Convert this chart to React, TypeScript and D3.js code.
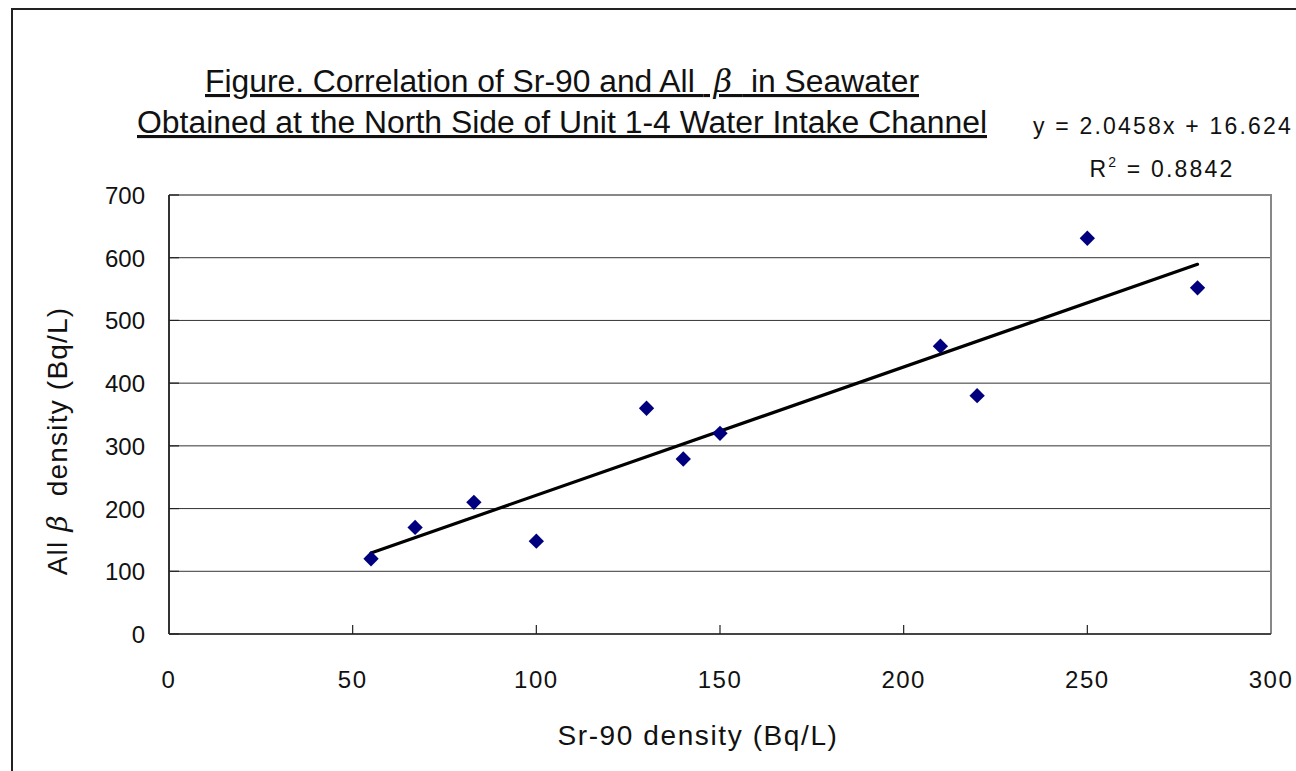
import React, { useRef, useEffect } from "react";
import * as d3 from "d3";

// Sr-90 density (Bq/L) vs All beta density (Bq/L)
const srValues = [55, 67, 83, 100, 130, 140, 150, 210, 220, 250, 280];
const betaValues = [120, 170, 210, 148, 360, 279, 320, 459, 380, 631, 552];
const xTicks = [0, 50, 100, 150, 200, 250, 300];
const yTicks = [0, 100, 200, 300, 400, 500, 600, 700];
const slope = 2.0458;
const intercept = 16.624;
const titleLines = [
  ["Figure. Correlation of Sr-90 and All ", "\u03B2", " in Seawater"],
  ["Obtained at the North Side of Unit 1-4 Water Intake Channel", "", ""],
];
const titleWidths = [714, 850];

const W = 1296;
const H = 771;

export default function App() {
  const svgRef = useRef<SVGSVGElement>(null);

  useEffect(() => {
    const svg = d3.select(svgRef.current);
    svg.selectAll("*").remove();

    const margin = { top: 195, right: 25, bottom: 137, left: 169 };
    const w = W - margin.left - margin.right;
    const h = H - margin.top - margin.bottom;
    const font = "'Liberation Sans', Arial, sans-serif";

    // outer frame
    svg
      .append("rect")
      .attr("x", 12)
      .attr("y", 9)
      .attr("width", W + 20)
      .attr("height", H + 20)
      .attr("fill", "#fff")
      .attr("stroke", "#222")
      .attr("stroke-width", 2);

    const g = svg
      .append("g")
      .attr("transform", `translate(${margin.left},${margin.top})`);

    const x = d3.scaleLinear().domain([0, 300]).range([0, w]);
    const y = d3.scaleLinear().domain([0, 700]).range([h, 0]);

    // gridlines
    g.selectAll(".grid")
      .data(yTicks.slice(1, -1))
      .join("line")
      .attr("x1", 0)
      .attr("x2", w)
      .attr("y1", (d) => y(d))
      .attr("y2", (d) => y(d))
      .attr("stroke", "#333")
      .attr("stroke-width", 1);

    // plot border (top/right gray)
    g.append("path")
      .attr("d", `M0,0H${w}V${h}`)
      .attr("fill", "none")
      .attr("stroke", "#888")
      .attr("stroke-width", 2);

    // axes
    g.append("line")
      .attr("x1", 0)
      .attr("x2", w)
      .attr("y1", h)
      .attr("y2", h)
      .attr("stroke", "#444")
      .attr("stroke-width", 2);
    g.append("line")
      .attr("x1", 0)
      .attr("x2", 0)
      .attr("y1", 0)
      .attr("y2", h)
      .attr("stroke", "#333")
      .attr("stroke-width", 2);

    // inward ticks
    g.selectAll(".xt")
      .data(xTicks.slice(1, -1))
      .join("line")
      .attr("x1", (d) => x(d))
      .attr("x2", (d) => x(d))
      .attr("y1", h)
      .attr("y2", h - 9)
      .attr("stroke", "#222")
      .attr("stroke-width", 1.2);
    g.selectAll(".yt")
      .data(yTicks)
      .join("line")
      .attr("x1", 0)
      .attr("x2", 10)
      .attr("y1", (d) => y(d))
      .attr("y2", (d) => y(d))
      .attr("stroke", "#222")
      .attr("stroke-width", 1.2);

    // tick labels
    g.selectAll(".xl")
      .data(xTicks)
      .join("text")
      .attr("x", (d) => x(d))
      .attr("y", h + 54)
      .attr("text-anchor", "middle")
      .attr("font-family", font)
      .attr("font-size", 24)
      .attr("letter-spacing", 1.5)
      .attr("fill", "#111")
      .text((d) => d);
    g.selectAll(".yl")
      .data(yTicks)
      .join("text")
      .attr("x", -24)
      .attr("y", (d) => y(d) + 9)
      .attr("text-anchor", "end")
      .attr("font-family", font)
      .attr("font-size", 24)
      .attr("fill", "#111")
      .text((d) => d);

    // trend line
    const xMin = d3.min(srValues) as number;
    const xMax = d3.max(srValues) as number;
    const line = d3
      .line<number>()
      .x((d) => x(d))
      .y((d) => y(slope * d + intercept));
    g.append("path")
      .datum([xMin, xMax])
      .attr("fill", "none")
      .attr("stroke", "#000")
      .attr("stroke-width", 3.2)
      .attr("stroke-linecap", "round")
      .attr("d", line);

    // diamond points
    const diamond = d3.symbol().type(d3.symbolDiamond2).size(150);
    g.selectAll(".pt")
      .data(srValues.map((v, i) => [v, betaValues[i]]))
      .join("path")
      .attr("transform", (d) => `translate(${x(d[0])},${y(d[1])})`)
      .attr("d", diamond)
      .attr("fill", "#00007f");

    // title
    titleLines.forEach((parts, i) => {
      const txt = svg
        .append("text")
        .attr("x", 562)
        .attr("y", 92 + i * 41)
        .attr("text-anchor", "middle")
        .attr("font-family", font)
        .attr("font-size", 31)
        .attr("fill", "#111")
        .attr("text-decoration", "underline")
        .attr("textLength", titleWidths[i])
        .attr("lengthAdjust", "spacingAndGlyphs");
      txt.append("tspan").text(parts[0]);
      if (parts[1]) {
        txt
          .append("tspan")
          .attr("font-family", "'DejaVu Serif', serif")
          .attr("font-style", "italic")
          .attr("font-weight", 300)
          .text("\u00A0" + parts[1] + "\u00A0");
        txt.append("tspan").text(parts[2]);
      }
    });

    // equation
    svg
      .append("text")
      .attr("x", 1163)
      .attr("y", 134)
      .attr("text-anchor", "middle")
      .attr("font-family", font)
      .attr("font-size", 23)
      .attr("letter-spacing", 2.2)
      .attr("fill", "#111")
      .text("y = 2.0458x + 16.624");
    const r2 = svg
      .append("text")
      .attr("x", 1162)
      .attr("y", 177)
      .attr("text-anchor", "middle")
      .attr("font-family", font)
      .attr("font-size", 23)
      .attr("letter-spacing", 2.2)
      .attr("fill", "#111");
    r2.append("tspan").text("R");
    r2.append("tspan").attr("dy", -10).attr("font-size", 14).text("2");
    r2.append("tspan").attr("dy", 10).text(" = 0.8842");

    // axis titles
    svg
      .append("text")
      .attr("x", 698)
      .attr("y", 745)
      .attr("text-anchor", "middle")
      .attr("font-family", font)
      .attr("font-size", 28)
      .attr("letter-spacing", 1.6)
      .attr("fill", "#111")
      .text("Sr-90 density (Bq/L)");
    const yt = svg
      .append("text")
      .attr("transform", `translate(67,441) rotate(-90)`)
      .attr("text-anchor", "middle")
      .attr("font-family", font)
      .attr("font-size", 28)
      .attr("letter-spacing", 1.2)
      .attr("fill", "#111");
    yt.append("tspan").text("All\u00A0");
    yt.append("tspan")
      .attr("font-family", "'DejaVu Serif', serif")
      .attr("font-style", "italic")
      .text("\u03B2");
    yt.append("tspan").text("\u00A0 density (Bq/L)");
  }, []);

  return (
    <div style={{ position: "absolute", left: 0, top: 0, width: W, height: H, overflow: "hidden" }}>
      <svg ref={svgRef} width={W} height={H} style={{ display: "block" }} />
    </div>
  );
}
